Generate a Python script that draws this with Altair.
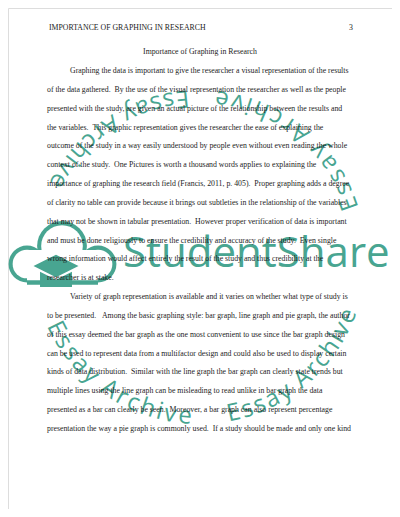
import math
import altair as alt
import pandas as pd

# ---------------- page text (data) ----------------
header_left = "IMPORTANCE OF GRAPHING IN RESEARCH"
header_page = "3"
title_text = "Importance of Graphing in Research"
NB = "\u00a0"
body_lines = [
    "Graphing the data is important to give the researcher a visual representation of the results",
    f"of the data gathered. {NB}By the use of the visual representation the researcher as well as the people",
    "presented with the study, are given an actual picture of the relationship between the results and",
    f"the variables. {NB}This graphic representation gives the researcher the ease of explaining the",
    "outcome of the study in a way easily understood by people even without even reading the whole",
    f"context of the study. {NB}One Pictures is worth a thousand words applies to explaining the",
    f"importance of graphing the research field (Francis, 2011, p. 405). {NB}Proper graphing adds a degree",
    "of clarity no table can provide because it brings out subtleties in the relationship of the variables",
    f"that may not be shown in tabular presentation. {NB}However proper verification of data is important",
    f"and must be done religiously to ensure the credibility and accuracy of the study. {NB}Even single",
    "wrong information would affect entirely the result of the study and thus credibility at the",
    "researcher is at stake.",
    "Variety of graph representation is available and it varies on whether what type of study is",
    f"to be presented. {NB}{NB}Among the basic graphing style: bar graph, line graph and pie graph, the author",
    "of this essay deemed the bar graph as the one most convenient to use since the bar graph design",
    "can be used to represent data from a multifactor design and could also be used to display certain",
    f"kinds of data distribution. {NB}Similar with the line graph the bar graph can clearly state trends but",
    "multiple lines using the line graph can be misleading to read unlike in bar graph the data",
    f"presented as a bar can clearly be seen. {NB}Moreover, a bar graph can also represent percentage",
    f"presentation the way a pie graph is commonly used. {NB}If a study should be made and only one kind",
]
paragraph_starts = [0, 12]

# watermark words
wm_brand = "StudentShare"
wm_phrase = "Essay Archive"

# ---------------- styles ----------------
TEXT_COLOR = "#1c1c1c"
TEAL = "#48a591"
SERIF = "Liberation Serif"
FS = 7.8
W, H = 384, 501

body_df = pd.DataFrame({
    "row": list(range(len(body_lines))),
    "text": body_lines,
    "indent": [i in paragraph_starts for i in range(len(body_lines))],
})
one = pd.DataFrame({"k": [0]})

yscale = alt.Scale(domain=[0, len(body_lines) - 1], range=[63, 421])

body_plain = alt.Chart(body_df).transform_filter("!datum.indent").mark_text(
    align="left", baseline="middle", font=SERIF, fontSize=FS, color=TEXT_COLOR
).encode(x=alt.value(39), y=alt.Y("row:Q", scale=yscale, axis=None), text="text:N")

body_indent = alt.Chart(body_df).transform_filter("datum.indent").mark_text(
    align="left", baseline="middle", font=SERIF, fontSize=FS, color=TEXT_COLOR
).encode(x=alt.value(62), y=alt.Y("row:Q", scale=yscale, axis=None), text="text:N")

hdr = alt.Chart(one).mark_text(
    align="left", baseline="middle", font=SERIF, fontSize=FS, color=TEXT_COLOR, text=header_left
).encode(x=alt.value(41), y=alt.value(20))
pg = alt.Chart(one).mark_text(
    align="right", baseline="middle", font=SERIF, fontSize=FS, color=TEXT_COLOR, text=header_page
).encode(x=alt.value(345), y=alt.value(20))
ttl = alt.Chart(one).mark_text(
    align="center", baseline="middle", font=SERIF, fontSize=FS, color=TEXT_COLOR, text=title_text
).encode(x=alt.value(192), y=alt.value(44))

# ---------------- watermark: ring of "Essay Archive" ----------------
adv = {'E': .56, 's': .48, 'a': .56, 'y': .5, ' ': .26, 'A': .63, 'r': .41,
       'c': .48, 'h': .61, 'i': .26, 'v': .5, 'e': .56}
cx, cy, R = 199 - 8, 257 - 8, 160
arcs = [(153.3, 95.0), (77.5, 21.7), (-19.6, -81.7), (-96.0, -151.4)]
centers = []
acc = 0.0
for ch in wm_phrase:
    centers.append(acc + adv[ch] / 2)
    acc += adv[ch]
c0, c1 = centers[0], centers[-1]
ring_rows = []
for a0, a1 in arcs:
    for ch, c in zip(wm_phrase, centers):
        if ch == " ":
            continue
        t = (c - c0) / (c1 - c0)
        phi = a0 + t * (a1 - a0)
        pr = math.radians(phi)
        ring_rows.append({
            "ch": ch,
            "x": cx + R * math.cos(pr),
            "y": cy + R * math.sin(pr),
            "ang": (phi - 90) % 360,
        })
ring_df = pd.DataFrame(ring_rows)
ring = alt.Chart(ring_df).mark_text(
    align="center", baseline="middle", font="Open Sans", fontSize=24, color=TEAL
).encode(
    x=alt.X("x:Q", scale=None, axis=None),
    y=alt.Y("y:Q", scale=None, axis=None),
    angle=alt.Angle("ang:Q", scale=None),
    text="ch:N",
)

brand = alt.Chart(one).mark_text(
    align="left", baseline="alphabetic", font="Open Sans", fontSize=42, color=TEAL, text=wm_brand
).encode(x=alt.value(115), y=alt.value(259))

# ---------------- watermark: cloud logo ----------------
def disc(x, y, r, color):
    return alt.Chart(one).mark_point(
        shape="circle", filled=True, size=math.pi * r * r, color=color, opacity=1, strokeWidth=0
    ).encode(x=alt.value(x), y=alt.value(y))

def box(x1, x2, y1, y2, color):
    return alt.Chart(one).mark_rect(color=color, opacity=1).encode(
        x=alt.value(x1), x2=alt.value(x2), y=alt.value(y1), y2=alt.value(y2))

sw = 2.3
Lc, Bc, Rc = (19, 256, 18.5), (54, 238, 25.8), (90, 256, 18.5)
cloud = [
    disc(Lc[0], Lc[1], Lc[2] + sw, TEAL), disc(Bc[0], Bc[1], Bc[2] + sw, TEAL),
    disc(Rc[0], Rc[1], Rc[2] + sw, TEAL), box(19, 90, 242, 274.5 + sw, TEAL),
    disc(Lc[0], Lc[1], Lc[2] - sw, "white"), disc(Bc[0], Bc[1], Bc[2] - sw, "white"),
    disc(Rc[0], Rc[1], Rc[2] - sw, "white"), box(19, 90, 242, 274.5 - sw, "white"),
]
cap_path = "M-1,0L0,-0.5L1,0L0,0.5Z M-0.71,0.26L0,0.61L0.71,0.26L0.71,0.93L-0.71,0.93Z"
cap = alt.Chart(one).mark_point(
    shape=cap_path, filled=True, size=2025, color=TEAL, opacity=1, strokeWidth=0
).encode(x=alt.value(48), y=alt.value(258))

chart = alt.layer(
    ring, brand, *cloud, cap, hdr, pg, ttl, body_plain, body_indent
).resolve_scale(x="independent", y="independent").properties(
    width=W, height=H, padding=0
).configure_view(stroke=None).configure(background="white")

chart.save("out.html", embed_options={"renderer": "svg", "actions": False})
